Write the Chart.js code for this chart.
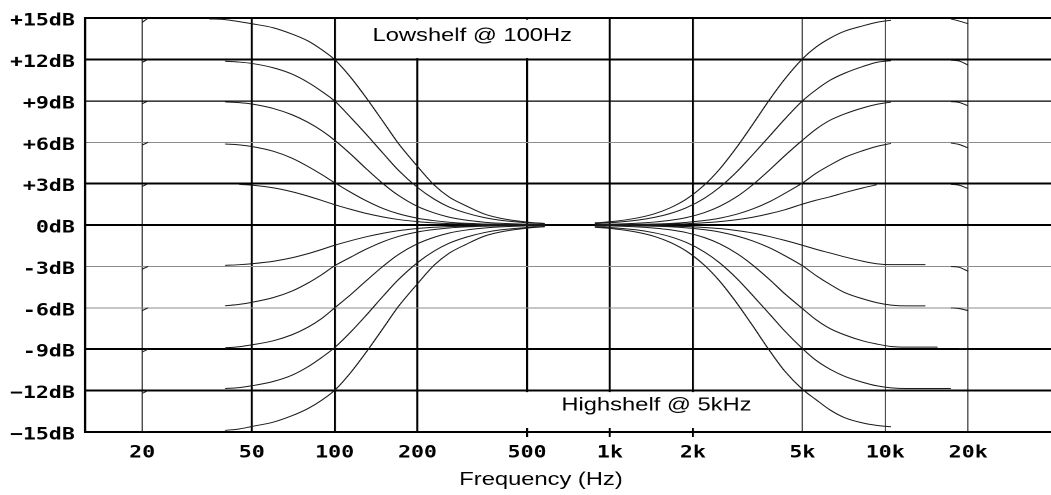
<!DOCTYPE html>
<html>
<head>
<meta charset="utf-8">
<title>Shelving EQ curves</title>
<script src="https://cdn.jsdelivr.net/npm/chart.js@4.4.1/dist/chart.umd.min.js"></script>
<style>
  html, body { margin: 0; padding: 0; background: #fff; }
</style>
</head>
<body>
<!-- drawn narrow and stretched sideways, like the original bitmap -->
<canvas id="eqChart" width="828" height="495" style="width:1051px;height:495px"></canvas>
<script>
"use strict";

// frequencies (Hz) the curves were read at
let lowFreq = [20, 21, 30, 35, 40, 45, 50, 60, 70, 80, 90, 100, 115, 130, 150, 170, 200, 230, 260, 300, 350, 400, 500, 580];
let highFreq = [880, 1000, 1250, 1450, 1650, 1900, 2200, 2500, 2900, 3300, 3800, 4300, 5000, 5600, 6300, 7100, 8300, 9300, 10500, 12000, 14000, 15500, 17300, 18500, 20000];

// lowshelf @ 100Hz, dB (null = gap in the original trace)
let lowP15 = [14.7, 15, null, 14.95, 14.9, 14.75, 14.6, 14.3, 13.85, 13.35, 12.7, 12.0, 10.65, 9.25, 7.5, 5.95, 4.25, 2.9, 2.05, 1.4, 0.8, 0.5, 0.22, 0.12];
let lowP12 = [11.8, 12, null, null, 11.88, 11.82, 11.72, 11.4, 10.95, 10.35, 9.68, 9.0, 7.75, 6.6, 5.2, 4.0, 2.73, 1.88, 1.32, 0.88, 0.54, 0.35, 0.17, 0.1];
let lowP9 = [8.8, 9, null, null, 8.93, 8.88, 8.78, 8.45, 8.0, 7.45, 6.83, 6.15, 5.1, 4.1, 3.0, 2.17, 1.35, 0.88, 0.58, 0.36, 0.21, 0.13, 0.06, 0.04];
let lowP6 = [5.8, 6, null, null, 5.88, 5.82, 5.7, 5.35, 4.85, 4.25, 3.65, 3.07, 2.35, 1.77, 1.2, 0.83, 0.5, 0.32, 0.21, 0.13, 0.08, 0.05, 0.02, 0.01];
let lowP3 = [2.8, 3, null, null, null, 2.95, 2.9, 2.7, 2.42, 2.1, 1.78, 1.48, 1.13, 0.85, 0.59, 0.41, 0.25, 0.16, 0.11, 0.07, 0.04, 0.03, 0.01, 0];
let lowM3 = [-3.2, -3, null, null, -2.92, -2.87, -2.8, -2.62, -2.37, -2.07, -1.76, -1.46, -1.12, -0.85, -0.59, -0.41, -0.25, -0.16, -0.11, -0.07, -0.04, -0.03, -0.01, 0];
let lowM6 = [-6.2, -6, null, null, -5.85, -5.75, -5.6, -5.25, -4.78, -4.2, -3.58, -2.95, -2.3, -1.75, -1.2, -0.83, -0.5, -0.32, -0.21, -0.13, -0.08, -0.05, -0.02, -0.01];
let lowM9 = [-9.2, -9, null, null, -8.9, -8.82, -8.68, -8.38, -7.95, -7.4, -6.75, -6.0, -5.0, -4.05, -2.98, -2.15, -1.35, -0.88, -0.58, -0.36, -0.21, -0.13, -0.06, -0.04];
let lowM12 = [-12.2, -12, null, null, -11.85, -11.78, -11.65, -11.33, -10.88, -10.27, -9.58, -8.88, -7.7, -6.55, -5.15, -3.98, -2.72, -1.88, -1.32, -0.88, -0.54, -0.35, -0.17, -0.1];
let lowM15 = [-15, -15, null, null, -14.88, -14.78, -14.6, -14.28, -13.82, -13.3, -12.68, -11.98, -10.63, -9.23, -7.48, -5.93, -4.25, -2.9, -2.05, -1.4, -0.8, -0.5, -0.22, -0.12];

// highshelf @ 5kHz, dB
let highP15 = [0.16, 0.24, 0.51, 0.82, 1.24, 1.9, 2.9, 4.05, 5.7, 7.3, 9.1, 10.55, 12.05, 12.9, 13.55, 14.05, 14.45, 14.7, 14.85, null, null, null, 14.95, 14.8, 14.6];
let highP12 = [0.11, 0.17, 0.35, 0.56, 0.83, 1.27, 1.94, 2.73, 3.9, 5.1, 6.45, 7.65, 9.0, 9.8, 10.5, 11.0, 11.5, 11.8, 11.92, null, null, null, 11.95, 11.9, 11.6];
let highP9 = [0.04, 0.06, 0.13, 0.22, 0.34, 0.55, 0.9, 1.35, 2.08, 2.92, 4.0, 5.0, 6.15, 6.95, 7.6, 8.05, 8.5, 8.75, 8.92, null, null, null, 8.95, 8.9, 8.65];
let highP6 = [0.01, 0.02, 0.05, 0.08, 0.12, 0.2, 0.33, 0.5, 0.8, 1.17, 1.7, 2.28, 3.05, 3.75, 4.35, 4.9, 5.4, 5.7, 5.92, null, null, null, 5.95, 5.85, 5.6];
let highP3 = [0.01, 0.01, 0.03, 0.04, 0.07, 0.1, 0.17, 0.25, 0.4, 0.57, 0.83, 1.1, 1.52, 1.8, 2.05, 2.35, 2.7, 2.92, null, null, null, null, 2.95, 2.9, 2.65];
let highM3 = [-0.01, -0.01, -0.03, -0.04, -0.07, -0.1, -0.17, -0.25, -0.4, -0.57, -0.83, -1.1, -1.46, -1.75, -2.02, -2.3, -2.62, -2.8, -2.87, -2.87, -2.87, null, -3.0, -3.05, -3.35];
let highM6 = [-0.01, -0.02, -0.05, -0.08, -0.12, -0.2, -0.33, -0.5, -0.8, -1.15, -1.65, -2.2, -2.95, -3.65, -4.3, -4.88, -5.35, -5.62, -5.8, -5.86, -5.86, null, -6.0, -6.05, -6.2];
let highM9 = [-0.04, -0.06, -0.13, -0.22, -0.34, -0.55, -0.9, -1.35, -2.08, -2.9, -3.95, -4.95, -6.05, -6.85, -7.5, -7.95, -8.4, -8.62, -8.8, -8.85, -8.85, -8.85, null, -8.95, -9.0];
let highM12 = [-0.11, -0.17, -0.35, -0.56, -0.83, -1.27, -1.94, -2.73, -3.9, -5.1, -6.45, -7.65, -8.95, -9.8, -10.45, -10.95, -11.4, -11.65, -11.8, -11.85, -11.85, -11.85, -11.85, null, null];
let highM15 = [-0.16, -0.24, -0.51, -0.82, -1.24, -1.9, -2.9, -4.05, -5.7, -7.3, -9.1, -10.55, -11.9, -12.65, -13.4, -13.95, -14.35, -14.52, -14.62, null, null, null, null, null, null];

// axes
let xTicks = [20, 50, 100, 200, 500, 1000, 2000, 5000, 10000, 20000];
let xLabels = ['20', '50', '100', '200', '500', '1k', '2k', '5k', '10k', '20k'];
let yTicks = [-15, -12, -9, -6, -3, 0, 3, 6, 9, 12, 15];
let yLabels = ['\u221215dB', '\u221212dB', '-9dB', '-6dB', '-3dB', '0dB', '+3dB', '+6dB', '+9dB', '+12dB', '+15dB'];

// line styles
let heavyX = [50, 100, 200, 500, 1000, 2000];
let stubX = [500, 1000, 2000];
let heavyY = [-15, -12, -9, 0, 3, 12, 15];
let lightY = [-6, -3, 6];

let tickFont = { family: '"DejaVu Sans Mono", monospace', weight: 'bold', size: 17 };
let textFont = '18.7px "Liberation Sans", Arial, sans-serif';

function shelfCurve(freqs, gains) {
    return {
        data: freqs.map((f, i) => ({ x: f, y: gains[i] })),
        borderColor: '#1a1a1a',
        borderWidth: 1,
        pointRadius: 0,
        fill: false,
        spanGaps: false,
        cubicInterpolationMode: 'monotone'
    };
}

let datasets = [
    shelfCurve(lowFreq, lowP15), shelfCurve(lowFreq, lowP12), shelfCurve(lowFreq, lowP9),
    shelfCurve(lowFreq, lowP6), shelfCurve(lowFreq, lowP3), shelfCurve(lowFreq, lowM3),
    shelfCurve(lowFreq, lowM6), shelfCurve(lowFreq, lowM9), shelfCurve(lowFreq, lowM12),
    shelfCurve(lowFreq, lowM15),
    shelfCurve(highFreq, highP15), shelfCurve(highFreq, highP12), shelfCurve(highFreq, highP9),
    shelfCurve(highFreq, highP6), shelfCurve(highFreq, highP3), shelfCurve(highFreq, highM3),
    shelfCurve(highFreq, highM6), shelfCurve(highFreq, highM9), shelfCurve(highFreq, highM12),
    shelfCurve(highFreq, highM15)
];

// white label boxes over the grid, plus the texts
const shelfLabels = {
    id: 'shelfLabels',
    beforeDatasetsDraw(chart) {
        const { ctx, chartArea, scales: { x, y } } = chart;
        ctx.save();
        ctx.fillStyle = '#fff';
        let l1 = x.getPixelForValue(100) + 1.5;
        let r1 = x.getPixelForValue(1000) - 1.5;
        let t1 = chartArea.top + 1.5;
        let b1 = y.getPixelForValue(12) - 1.5;
        ctx.fillRect(l1, t1, r1 - l1, b1 - t1);

        let l2 = x.getPixelForValue(200) + 1.5;
        let r2 = x.getPixelForValue(5000) - 1.5;
        let t2 = y.getPixelForValue(-12) + 1.5;
        let b2 = chartArea.bottom - 4;
        ctx.fillRect(l2, t2, r2 - l2, b2 - t2);

        ctx.fillStyle = '#000';
        ctx.font = textFont;
        ctx.textAlign = 'center';
        ctx.textBaseline = 'alphabetic';
        ctx.fillText('Lowshelf @ 100Hz', (l1 + r1) / 2, chartArea.top + 23);
        let hx = (x.getPixelForValue(1000) + x.getPixelForValue(2000)) / 2 + 4;
        ctx.fillText('Highshelf @ 5kHz', hx, y.getPixelForValue(-12) + 20);
        ctx.restore();
    },
    afterDraw(chart) {
        const { ctx, chartArea } = chart;
        ctx.save();
        ctx.fillStyle = '#000';
        ctx.font = textFont;
        ctx.textAlign = 'center';
        ctx.textBaseline = 'alphabetic';
        let cx = chartArea.left + (chartArea.right - chartArea.left) * 0.472;
        ctx.fillText('Frequency (Hz)', cx, chartArea.bottom + 53);
        ctx.restore();
    }
};

let config = {
    type: 'line',
    data: { datasets: datasets },
    options: {
        responsive: false,
        animation: false,
        devicePixelRatio: 2,
        layout: { padding: { top: 16, right: 0, bottom: 0, left: 0 } },
        plugins: {
            legend: { display: false },
            tooltip: { enabled: false }
        },
        scales: {
            x: {
                type: 'logarithmic',
                min: 12.4,
                max: 40000,
                afterBuildTicks: (scale) => { scale.ticks = xTicks.map(v => ({ value: v })); },
                afterFit: (scale) => { scale.height = 63; },
                ticks: {
                    autoSkip: false,
                    maxRotation: 0,
                    padding: 6,
                    color: '#000',
                    font: tickFont,
                    callback: (value, index) => xLabels[index]
                },
                grid: {
                    color: (c) => heavyX.includes(c.tick && c.tick.value) ? '#000' : '#3a3a3a',
                    lineWidth: (c) => heavyX.includes(c.tick && c.tick.value) ? 1.6 : 0.9,
                    tickColor: (c) => stubX.includes(c.tick && c.tick.value) ? '#000' : 'rgba(0,0,0,0)',
                    tickLength: 5,
                    tickWidth: 1.6
                },
                border: { display: true, color: '#000', width: 2 }
            },
            y: {
                type: 'linear',
                min: -15,
                max: 15,
                afterBuildTicks: (scale) => { scale.ticks = yTicks.map(v => ({ value: v })); },
                afterFit: (scale) => { scale.width = 67; },
                ticks: {
                    padding: 8,
                    labelOffset: 3,
                    color: '#000',
                    font: tickFont,
                    callback: (value, index) => yLabels[index]
                },
                grid: {
                    drawTicks: false,
                    color: (c) => lightY.includes(c.tick && c.tick.value) ? '#8c8c8c' : '#000',
                    lineWidth: (c) => {
                        let v = c.tick && c.tick.value;
                        if (heavyY.includes(v)) return 2;
                        if (lightY.includes(v)) return 1;
                        return 1.2;
                    }
                },
                border: { display: true, color: '#000', width: 2 }
            }
        }
    },
    plugins: [shelfLabels]
};

const eqChart = new Chart(document.getElementById('eqChart'), config);
</script>
</body>
</html>
